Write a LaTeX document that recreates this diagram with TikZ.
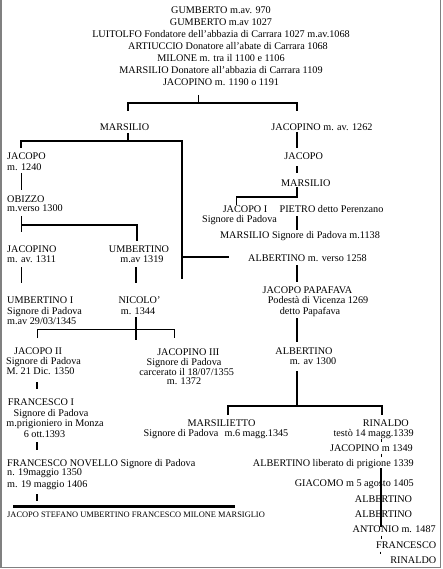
\documentclass[tikz,border=0pt]{standalone}
\usepackage{fontspec}
\setmainfont{Liberation Serif}
\begin{document}
\begin{tikzpicture}[x=1pt,y=-1pt,
  lab/.style={inner sep=0pt, anchor=base, font=\fontsize{10.2}{12}\selectfont},
  labl/.style={lab, anchor=base west},
  labr/.style={lab, anchor=base east},
  smalltext/.style={font=\fontsize{8.4}{10}\selectfont},
  thk/.style={line width=2.2pt},
  thn/.style={line width=1pt},
  framel/.style={draw=gray, line width=1.5pt}]
\useasboundingbox (0,0) rectangle (442,569);
\fill[white] (0,0) rectangle (442,569);
\draw[framel] (1,0) -- (1,567.5) -- (440.5,567.5) -- (440.5,0);

% ---- top lineage
\node[lab] (g1) at (221,13.2) {GUMBERTO m.av. 970};
\node[lab] (g2) at (221,25.2) {GUMBERTO m.av 1027};
\node[lab] (lu) at (221,37.2) {LUITOLFO Fondatore dell'abbazia di Carrara 1027 m.av.1068};
\node[lab] (ar) at (228,49.3) {ARTIUCCIO Donatore all'abate di Carrara 1068};
\node[lab] (mi) at (221,61.3) {MILONE m. tra il 1100 e 1106};
\node[lab] (ma0) at (221,73.4) {MARSILIO Donatore all'abbazia di Carrara 1109};
\node[lab] (ja0) at (221,85.4) {JACOPINO m. 1190 o 1191};

\coordinate (t0) at (198,95);
\coordinate (t1) at (198,103);
\coordinate (brL) at (128,111);
\coordinate (brR) at (297,111);
\draw[thn] (t0) -- (t1);
\draw[thk] (brL) -- (brL |- t1) -- (brR |- t1) -- (brR);

\node[lab] (mar1) at (124.5,130.5) {MARSILIO};
\node[lab] (jac1) at (322,130.5) {JACOPINO m. av. 1262};

% ---- left branch (Carraresi)
\coordinate (m1a) at (128,133);
\coordinate (m1b) at (128,141);
\coordinate (m1L) at (21,148);
\coordinate (m1R) at (182,279);
\draw[thk] (m1a) -- (m1b);
\draw[thk] (m1L) -- (m1L |- m1b) -- (m1R |- m1b) -- (m1R);
\coordinate (alb1L) at (229,257);
\draw[thk] (m1R |- alb1L) -- (alb1L);

\node[labl] (jacopo2) at (7,160) {JACOPO};
\node[labl] (jacopo2b) at (7,170.5) {m. 1240};
\coordinate (jo1) at (21,173);
\coordinate (jo2) at (21,190);
\draw[thn] (jo1) -- (jo2);
\node[labl] (obizzo) at (7,202) {OBIZZO};
\node[labl] (obizzob) at (7,211.5) {m.verso 1300};
\coordinate (ob1) at (21,216);
\coordinate (ob2) at (21,232);
\coordinate (ob3) at (137,225);
\coordinate (ob4) at (137,241);
\draw[thn] (ob1) -- (ob2);
\draw[thk] (ob1 |- ob3) -- (ob3) -- (ob4);

\node[labl] (jacopino3) at (7,252) {JACOPINO};
\node[labl] (jacopino3b) at (7,262.5) {m. av. 1311};
\node[lab] (umb1) at (139,252) {UMBERTINO};
\node[lab] (umb1b) at (142,262.5) {m.av 1319};
\coordinate (ju1) at (21,267);
\coordinate (ju2) at (21,283);
\coordinate (un1) at (136,267);
\coordinate (un2) at (136,283);
\draw[thn] (ju1) -- (ju2);
\draw[thk] (un1) -- (un2);

\node[labl] (umbI) at (7,303.5) {UMBERTINO I};
\node[labl] (umbIb) at (7,314.5) {Signore di Padova};
\node[labl] (umbIc) at (7,324.5) {m.av 29/03/1345};
\node[lab] (nic) at (139.5,303.5) {NICOLO'};
\node[lab] (nicb) at (138,314.5) {m. 1344};
\coordinate (n1) at (136,317);
\coordinate (n2) at (136,340);
\coordinate (nL) at (37,338);
\coordinate (nR) at (174,338);
\coordinate (nbar) at (0,329);
\draw[thn] (nL) -- (nL |- nbar) -- (nR |- nbar) -- (nR);
\draw[thk] (n1) -- (n2);

\node[lab] (jII) at (38,354) {JACOPO II};
\node[lab] (jIIb) at (43.5,364.3) {Signore di Padova};
\node[lab] (jIIc) at (40.5,374.7) {M. 21 Dic. 1350};
\node[lab] (jIII) at (188.3,355.5) {JACOPINO III};
\node[lab] (jIIIb) at (184,365.3) {Signore di Padova};
\node[lab] (jIIIc) at (186.7,375.3) {carcerato il 18/07/1355};
\node[lab] (jIIId) at (184,384.5) {m. 1372};
\coordinate (f1) at (37,382);
\coordinate (f2) at (37,389);
\draw[thk] (f1) -- (f2);

\node[lab] (frI) at (41,405.5) {FRANCESCO I};
\node[lab] (frIb) at (51,416) {Signore di Padova};
\node[lab] (frIc) at (55,426) {m.prigioniero in Monza};
\node[lab] (frId) at (44.5,437) {6 ott.1393};
\coordinate (fn1) at (37,442);
\coordinate (fn2) at (37,450);
\draw[thk] (fn1) -- (fn2);

\node[labl] (frN) at (7,466) {FRANCESCO NOVELLO Signore di Padova};
\node[labl] (frNb) at (7,475.5) {n. 19maggio 1350};
\node[labl] (frNc) at (7,487) {m. 19 maggio 1406};
\coordinate (k1) at (37,494);
\coordinate (k2) at (37,501);
\draw[thk] (k1) -- (k2);
\coordinate (kbL) at (13,506.5);
\coordinate (kbR) at (235,506.5);
\draw[line width=2.6pt] (kbL) -- (kbR);
\node[labl, smalltext] (kids) at (7,517) {JACOPO STEFANO UMBERTINO FRANCESCO MILONE MARSIGLIO};

% ---- right branch
\coordinate (r1) at (297,132);
\coordinate (r2) at (297,148);
\draw[thk] (r1) -- (r2);
\node[lab] (jacopo5) at (303.7,160) {JACOPO};
\coordinate (r3) at (297,166.5);
\coordinate (r4) at (297,173.5);
\draw[thk] (r3) -- (r4);
\node[lab] (mar5) at (305.8,186) {MARSILIO};
\coordinate (r5) at (297,187.5);
\coordinate (r6) at (297,197);
\coordinate (r7) at (236,204.5);
\draw[thk] (r5) -- (r6) -- (r7 |- r6);
\draw[thn] (r7 |- r6) -- (r7);
\node[lab] (jI) at (245,212) {JACOPO I};
\node[lab] (jIb) at (239.5,222) {Signore di Padova};
\node[lab] (pie) at (331.5,212) {PIETRO detto Perenzano};
\coordinate (r8) at (297,216);
\coordinate (r9) at (297,230);
\draw[thk] (r8) -- (r9);
\node[lab] (mar6) at (300,238) {MARSILIO Signore di Padova m.1138};
\node[lab] (alb6) at (307.5,261) {ALBERTINO m. verso 1258};
\coordinate (r10) at (297,265);
\coordinate (r11) at (297,282);
\draw[thk] (r10) -- (r11);
\node[lab] (pap) at (307.5,293.5) {JACOPO PAPAFAVA};
\node[lab] (papb) at (318,303.5) {Podestà di Vicenza 1269};
\node[lab] (papc) at (310,314) {detto Papafava};
\coordinate (r12) at (297,318);
\coordinate (r13) at (297,342);
\draw[thk] (r12) -- (r13);
\node[lab] (alb7) at (304,354) {ALBERTINO};
\node[lab] (alb7b) at (313,364.5) {m. av 1300};
\coordinate (r14) at (297,371);
\coordinate (r15) at (297,406);
\coordinate (rbL) at (228,415);
\coordinate (rbR) at (382,415);
\draw[thk] (r14) -- (r15);
\draw[thk] (rbL) -- (rbL |- r15) -- (rbR |- r15) -- (rbR);

\node[lab] (msl) at (221.5,426) {MARSILIETTO};
\node[lab] (mslb) at (216,436.8) {Signore di Padova\hspace{0.6em}m.6 magg.1345};
\node[labr] (rin) at (409,426) {RINALDO};
\node[labr] (rinb) at (414,436) {testò 14 magg.1339};
\coordinate (s1) at (381,438.5);
\coordinate (s2) at (381,442);
\draw[thn] (s1) -- (s2);
\node[labr] (jac8) at (413,451) {JACOPINO m 1349};
\coordinate (s3) at (381,453.5);
\coordinate (s4) at (381,456.5);
\draw[thn] (s3) -- (s4);
\node[labr] (alb8) at (414,466) {ALBERTINO liberato di prigione 1339};
\coordinate (s5) at (381,468);
\coordinate (s6) at (381,484);
\coordinate (s7) at (381,527);
\draw[thk] (s5) -- (s6);
\draw[line width=1.3pt] (s6) -- (s7);
\node[labr] (gia) at (414,486) {GIACOMO m 5 agosto 1405};
\node[labr] (alb9) at (412.3,502) {ALBERTINO};
\node[labr] (alb10) at (412.3,517.3) {ALBERTINO};
\node[labr] (ant) at (436,532) {ANTONIO m. 1487};
\coordinate (s8) at (381,535.5);
\coordinate (s9) at (381,539);
\draw[thn] (s8) -- (s9);
\node[labr] (fra) at (436.5,548.5) {FRANCESCO};
\coordinate (s10) at (380,551.5);
\coordinate (s11) at (380,553.5);
\draw[thn] (s10) -- (s11);
\node[labr] (rin2) at (436.5,563) {RINALDO};
\end{tikzpicture}
\end{document}
